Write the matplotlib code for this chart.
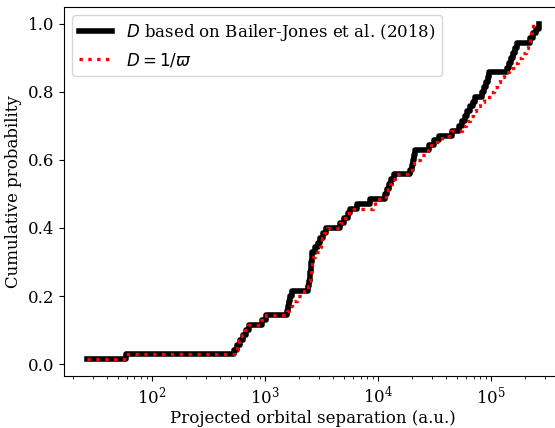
import numpy as np
import matplotlib
matplotlib.use("Agg")
import matplotlib.pyplot as plt

# Projected separations (a.u.), sorted
sep_bj = [26.6, 58.9, 532, 565, 601, 639, 679, 722, 941, 1020,
          1565, 1598, 1631, 1681, 1734, 2402, 2452, 2477, 2502, 2528,
          2554, 2580, 2607, 2770, 2944, 3067, 3261, 3466, 4610, 5002,
          5428, 5652, 6520, 8500, 11530, 12010, 12510, 13030, 13855, 19200,
          19800, 20400, 20830, 21260, 28270, 31300, 34660, 45170, 52110, 55390,
          58880, 61330, 65190, 69290, 72190, 83240, 86760, 90330, 93120, 96000,
          138550, 144300, 150300, 156550, 163100, 169900, 221400, 235300, 250100, 265900]

sep_plx = [26.6, 58.9, 532, 565, 589, 626, 666, 708, 922, 1020,
           1565, 1631, 1734, 1922, 2218, 2402, 2452, 2502, 2528, 2554,
           2607, 2661, 2770, 3067, 3131, 3196, 3330, 3539, 4610, 4900,
           5317, 5774, 8978, 9355, 11770, 12260, 12770, 13300, 14150, 19200,
           19990, 20830, 23540, 27700, 29500, 33280, 36770, 44260, 55390, 60090,
           65190, 69290, 73670, 79790, 86760, 99610, 105800, 112500, 119600, 129600,
           144300, 160400, 173500, 187800, 204000, 212500, 219100, 223600, 228200, 235300]

label_bj = r"$D$ based on Bailer-Jones et al. (2018)"
label_plx = r"$D = 1/\varpi$"

plt.rcParams['font.family'] = ['DejaVu Serif']
plt.rcParams['font.size'] = 12

fig = plt.figure(figsize=(5.55, 4.28), dpi=100)
ax = fig.add_axes([64/555, 1 - 376/428, 498/555, 369/428])

x1 = np.sort(np.array(sep_bj, dtype=float))
y1 = np.arange(1, len(x1) + 1) / len(x1)
x2 = np.sort(np.array(sep_plx, dtype=float))
y2 = np.arange(1, len(x2) + 1) / len(x2)

ax.step(x1, y1, where='post', color='black', lw=4, label=label_bj)
ax.step(x2, y2, where='post', color='red', lw=2.4, ls=':', label=label_plx)
ax.set_xscale('log')
ax.set_xlabel('Projected orbital separation (a.u.)', fontsize=12, labelpad=2)
ax.set_ylabel('Cumulative probability', fontsize=12)
ax.tick_params(labelsize=12)
ax.spines['right'].set_visible(False)
ax.legend(loc='upper left', fontsize=12)

fig.savefig('out.png', dpi=100)
